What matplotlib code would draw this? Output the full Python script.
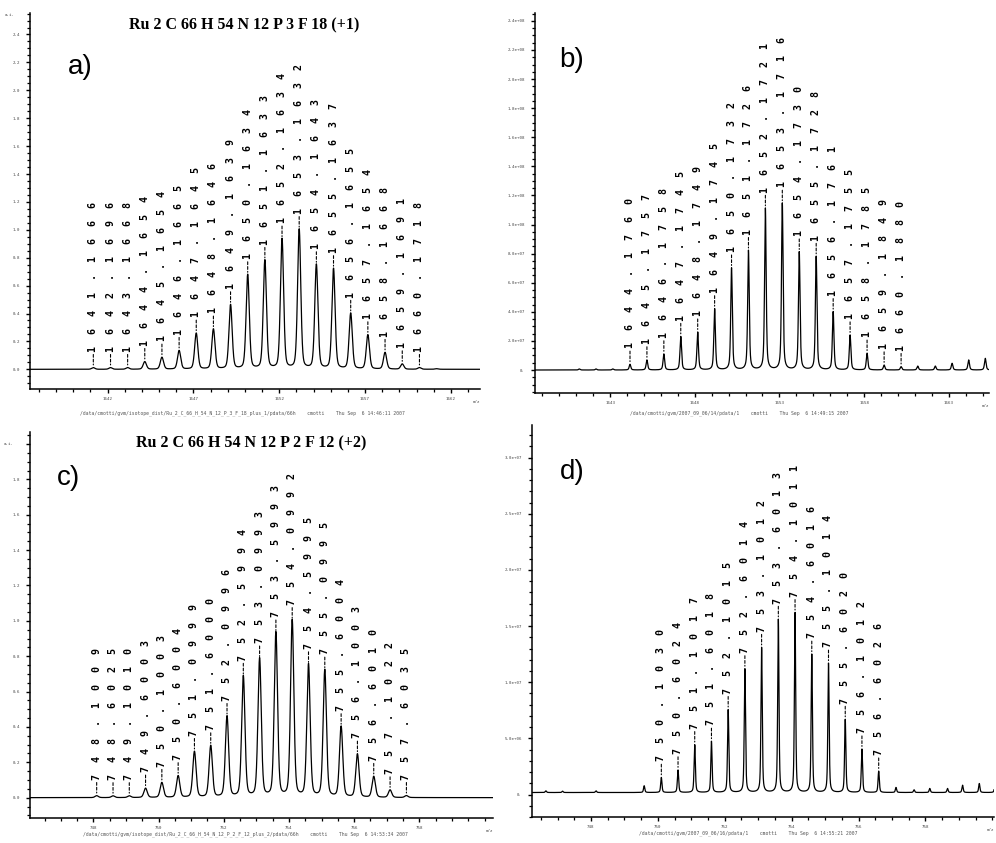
import numpy as np
import matplotlib
matplotlib.use('Agg')
import matplotlib.pyplot as plt
from matplotlib.ticker import MultipleLocator, FuncFormatter

# ---------------- data ----------------
# panel a: simulated Ru2C66H54N12P3F18 (+1)
a_mz = [1641.1666, 1642.1696, 1643.1668, 1644.1654, 1645.1654, 1646.1665, 1647.1645,
        1648.1646, 1649.1639, 1650.1634, 1651.1633, 1652.1634, 1653.1632, 1654.1643,
        1655.1637, 1656.1655, 1657.1654, 1658.1668, 1659.1691, 1660.1718]
a_int = [0.012, 0.012, 0.012, 0.055, 0.086, 0.134, 0.258, 0.287, 0.461, 0.676, 0.779,
         0.932, 1.000, 0.748, 0.720, 0.400, 0.246, 0.120, 0.038, 0.012]
a_extra_mz = [1661.17]
a_extra_int = [0.004]

# panel b: measured (+1)
b_mz = [1644.1760, 1645.1757, 1646.1758, 1647.1745, 1648.1749, 1649.1745, 1650.1732,
        1651.1726, 1652.1721, 1653.1716, 1654.1730, 1655.1728, 1656.1761, 1657.1755,
        1658.1785, 1659.1849, 1660.1880]
b_int = [0.39e7, 0.69e7, 1.10e7, 2.30e7, 2.60e7, 4.20e7, 7.00e7, 8.20e7, 11.1e7, 11.45e7,
         8.10e7, 7.80e7, 4.00e7, 2.40e7, 1.15e7, 0.34e7, 0.23e7]
b_extra_mz = [1641.18, 1642.17, 1643.16, 1661.17, 1662.21, 1663.20, 1664.18, 1665.16]
b_extra_int = [0.07e7, 0.07e7, 0.07e7, 0.27e7, 0.27e7, 0.46e7, 0.69e7, 0.80e7]

# panel c: simulated Ru2C66H54N12P2F12 (+2)
c_mz = [748.1009, 748.6025, 749.1010, 749.6003, 750.1003, 750.6004, 751.0999, 751.6000,
        752.0996, 752.5994, 753.0993, 753.5993, 754.0992, 754.5995, 755.0995, 755.6004,
        756.1003, 756.6010, 757.1022, 757.6035]
c_int = [0.011, 0.010, 0.010, 0.053, 0.085, 0.123, 0.260, 0.292, 0.458, 0.685, 0.783,
         0.930, 1.000, 0.750, 0.720, 0.400, 0.245, 0.119, 0.043, 0.011]

# panel d: measured (+2)
d_mz = [750.1030, 750.6024, 751.1017, 751.6018, 752.1015, 752.6014, 753.1012, 753.6013,
        754.1011, 754.6016, 755.1014, 755.6020, 756.1012, 756.6026]
d_int = [0.134e7, 0.20e7, 0.425e7, 0.455e7, 0.737e7, 1.10e7, 1.29e7, 1.54e7, 1.60e7,
         1.23e7, 1.15e7, 0.65e7, 0.386e7, 0.19e7]
d_extra_mz = [746.65, 747.15, 748.15, 749.59, 757.12, 757.66, 758.13, 758.66, 759.11,
              759.61, 760.08]
d_extra_int = [0.015e7, 0.012e7, 0.015e7, 0.06e7, 0.045e7, 0.024e7, 0.036e7, 0.036e7,
               0.065e7, 0.08e7, 0.075e7]
d_baseline = 0.018e7

titles = {"a": "Ru 2 C 66 H 54 N 12 P 3 F 18 (+1)",
          "c": "Ru 2 C 66 H 54 N 12 P 2 F 12 (+2)"}
footers = {
    "a": "/data/cmotti/gvm/isotope_dist/Ru_2_C_66_H_54_N_12_P_3_F_18_plus_1/pdata/66h    cmotti    Thu Sep  6 14:46:11 2007",
    "b": "/data/cmotti/gvm/2007_09_06/14/pdata/1    cmotti    Thu Sep  6 14:49:15 2007",
    "c": "/data/cmotti/gvm/isotope_dist/Ru_2_C_66_H_54_N_12_P_2_F_12_plus_2/pdata/66h    cmotti    Thu Sep  6 14:53:34 2007",
    "d": "/data/cmotti/gvm/2007_09_06/16/pdata/1    cmotti    Thu Sep  6 14:55:21 2007",
}

# ---------------- helpers ----------------
W, H = 996, 843
fig = plt.figure(figsize=(W / 100, H / 100), dpi=100)
fig.patch.set_facecolor('white')

TICKFONT = dict(family='DejaVu Sans Mono', size=3.0, color='#444444')


def add_ax(l, r, t, b):
    return fig.add_axes([l / W, 1 - b / H, (r - l) / W, (b - t) / H])


def pv(x, c, fwhm, eta):
    d = (x - c) / fwhm
    return eta / (1 + 4 * d * d) + (1 - eta) * np.exp(-4 * np.log(2) * d * d)


def spectrum(ax, xlim, mz, ints, fwhm, eta, base=0.0):
    x = np.linspace(xlim[0], xlim[1], 40000)
    y = np.full_like(x, base)
    for m, h in zip(mz, ints):
        y += h * pv(x, m, fwhm, eta)
    ax.plot(x, y, color='black', lw=0.9)


def label_peaks(ax, mz, ints, base=0.0):
    for m, h in zip(mz, ints):
        s = "  ".join(f"{m:.4f}")
        ax.annotate(s, xy=(m, h + base), xytext=(0, 11.5), textcoords='offset points',
                    rotation=90, ha='center', va='bottom', fontsize=7.2,
                    family='DejaVu Sans Mono', weight='bold', color='black',
                    arrowprops=dict(arrowstyle='-', color='black', lw=0.8,
                                    linestyle=(0, (2.5, 1.8)), shrinkA=0.0, shrinkB=2.0),
                    annotation_clip=False)


def style_axes(ax, xlim, ylim, xticks, xmin, ymaj, ymin, yfmt, ylabmax):
    ax.set_xlim(*xlim)
    ax.set_ylim(*ylim)
    for s in ('top', 'right'):
        ax.spines[s].set_visible(False)
    for s in ('left', 'bottom'):
        ax.spines[s].set_linewidth(1.1)
    ax.xaxis.set_major_locator(plt.FixedLocator(xticks))
    ax.xaxis.set_minor_locator(MultipleLocator(xmin))
    ax.yaxis.set_major_locator(MultipleLocator(ymaj))
    ax.yaxis.set_minor_locator(MultipleLocator(ymin))
    ax.xaxis.set_major_formatter(FuncFormatter(lambda v, p: f"{v:.0f}"))
    ax.yaxis.set_major_formatter(FuncFormatter(lambda v, p: "" if v > ylabmax + 1e-9 or v < -1e-9 else yfmt(v)))
    ax.tick_params(axis='both', which='major', direction='out', length=3.2, width=1.0,
                   pad=2.5, labelsize=TICKFONT['size'], labelcolor=TICKFONT['color'])
    ax.tick_params(axis='both', which='minor', direction='out', length=2.2, width=0.9)
    ax.tick_params(axis='y', which='major', pad=4)
    for lab in ax.get_xticklabels() + ax.get_yticklabels():
        lab.set_family(TICKFONT['family'])
    ax.text(1.0, -0.028, "m/z", transform=ax.transAxes, ha='right', va='top',
            **TICKFONT)
    ax.set_facecolor('none')


def fmt_ai(v):
    return f"{v:.1f}"


def fmt_e(v):
    return "0." if abs(v) < 1e-6 else f"{v:.1e}"


a_xticks = [1642, 1647, 1652, 1657, 1662]
b_xticks = [1643, 1648, 1653, 1658, 1663]
c_xticks = [748, 750, 752, 754, 756, 758]
d_xticks = [748, 750, 752, 754, 756, 758]

# ---------------- panel a ----------------
axa = add_ax(30, 480, 13, 389)
xa = (1637.477, 1663.70)
style_axes(axa, xa, (-0.141, 2.554), a_xticks, 1, 0.2, 0.05, fmt_ai, 2.4)
spectrum(axa, xa, a_mz + a_extra_mz, a_int + a_extra_int, 0.22, 0.3)
label_peaks(axa, a_mz, a_int)
axa.text(-0.035, 2.54, "a.i.", transform=axa.get_yaxis_transform(), ha='right',
         va='center', **TICKFONT)

# ---------------- panel b ----------------
axb = add_ax(535, 989, 13, 393)
xb = (1638.565, 1665.38)
style_axes(axb, xb, (-1.58e7, 2.454e8), b_xticks, 1, 2e7, 5e6, fmt_e, 2.4e8)
spectrum(axb, xb, b_mz + b_extra_mz, b_int + b_extra_int, 0.11, 0.55)
label_peaks(axb, b_mz, b_int)

# ---------------- panel c ----------------
axc = add_ax(30, 493, 432, 818)
xc = (746.055, 760.26)
style_axes(axc, xc, (-0.115, 2.068), c_xticks, 0.5, 0.2, 0.05, fmt_ai, 1.8)
spectrum(axc, xc, c_mz, c_int, 0.12, 0.3)
label_peaks(axc, c_mz, c_int)
axc.text(-0.035, 2.0, "a.i.", transform=axc.get_yaxis_transform(), ha='right',
         va='center', **TICKFONT)

# ---------------- panel d ----------------
axd = add_ax(532, 994, 425, 817)
xd = (746.236, 760.05)
style_axes(axd, xd, (-2.0e6, 3.29e7), d_xticks, 0.5, 5e6, 1e6, fmt_e, 3.0e7)
spectrum(axd, xd, d_mz + d_extra_mz, d_int + d_extra_int, 0.045, 0.5, base=d_baseline)
label_peaks(axd, d_mz, d_int, base=d_baseline)

# ---------------- titles, panel letters, footers ----------------
fig.text(244 / W, 1 - 25 / H, titles["a"], ha='center', va='center',
         family='Liberation Serif', weight='bold', fontsize=11.5)
fig.text(251 / W, 1 - 443 / H, titles["c"], ha='center', va='center',
         family='Liberation Serif', weight='bold', fontsize=11.5)

for letter, (cx, cy) in {"a)": (80, 67), "b)": (572, 60), "c)": (68, 478), "d)": (572, 472)}.items():
    fig.text(cx / W, 1 - cy / H, letter, ha='center', va='center',
             family='Liberation Sans', fontsize=20)

for key, (cx, cy) in {"a": (242, 413), "b": (739, 413), "c": (245, 834), "d": (748, 833)}.items():
    fig.text(cx / W, 1 - cy / H, footers[key], ha='center', va='center',
             family='DejaVu Sans Mono', fontsize=3.4, color='#555555')

fig.savefig("out.png", dpi=100, facecolor='white')
